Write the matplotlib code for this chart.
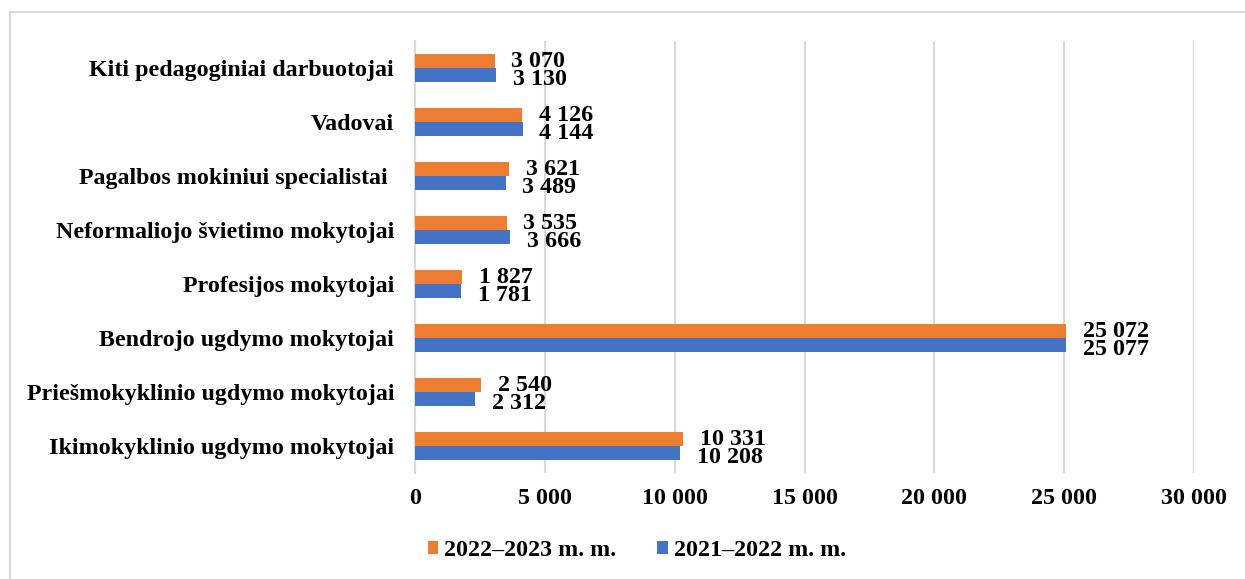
import matplotlib.pyplot as plt
import matplotlib.patches as mpatches
import numpy as np

plt.rcParams['font.family'] = ['Liberation Serif', 'DejaVu Serif']
plt.rcParams['font.weight'] = 'bold'

categories = [
    "Ikimokyklinio ugdymo mokytojai",
    "Priešmokyklinio ugdymo mokytojai",
    "Bendrojo ugdymo mokytojai",
    "Profesijos mokytojai",
    "Neformaliojo švietimo mokytojai",
    "Pagalbos mokiniui specialistai ",
    "Vadovai",
    "Kiti pedagoginiai darbuotojai",
]
vals_2022_2023 = [10331, 2540, 25072, 1827, 3535, 3621, 4126, 3070]
vals_2021_2022 = [10208, 2312, 25077, 1781, 3666, 3489, 4144, 3130]
series_names = ["2022–2023 m. m.", "2021–2022 m. m."]
colors = ["#ED7D31", "#4472C4"]
xticks = [0, 5000, 10000, 15000, 20000, 25000, 30000]

FS = 17.3


def fmt(v):
    return f"{v:,}".replace(",", " ")


W, H = 1245, 579
fig = plt.figure(figsize=(W / 100, H / 100), dpi=100)
ax = fig.add_axes([415 / W, 1 - 473 / H, (1194 - 415) / W, (473 - 41) / H])

y = np.arange(len(categories))
h = 0.26
bars_o = ax.barh(y + h / 2, vals_2022_2023, height=h, color=colors[0], label=series_names[0], zorder=3)
bars_b = ax.barh(y - h / 2, vals_2021_2022, height=h, color=colors[1], label=series_names[1], zorder=3)

# value labels: orange one sits just above the category centre, blue one just below
for yi, vo, vb in zip(y, vals_2022_2023, vals_2021_2022):
    ax.annotate(fmt(vo), (vo, yi), xytext=(12, 1), textcoords='offset points',
                ha='left', va='baseline', fontsize=FS, fontweight='bold')
    ax.annotate(fmt(vb), (vb, yi), xytext=(12, -12.5), textcoords='offset points',
                ha='left', va='baseline', fontsize=FS, fontweight='bold')

ax.set_xlim(0, 30000)
ax.set_ylim(-0.5, len(categories) - 0.5)
ax.set_xticks(xticks)
ax.set_xticklabels([fmt(t) for t in xticks], fontsize=FS, fontweight='bold')
ax.set_yticks(y)
ax.set_yticklabels(categories, fontsize=FS, fontweight='bold')
ax.tick_params(axis='x', length=0, pad=11)
ax.tick_params(axis='y', length=0, pad=15)

ax.grid(axis='x', color='#d9d9d9', lw=1.5, zorder=0)
for s in ('top', 'right', 'bottom'):
    ax.spines[s].set_visible(False)
ax.spines['left'].set_color('#d9d9d9')
ax.spines['left'].set_linewidth(1.5)

fig.legend(loc='center', bbox_to_anchor=(637 / W, 1 - 551 / H), ncol=2, frameon=False,
           prop={'size': FS, 'weight': 'bold'}, handlelength=0.45, handleheight=0.45,
           handletextpad=0.25, columnspacing=1.7)

# light outer frame of the chart area
fig.patches.append(mpatches.Rectangle((9.5 / W, -0.1), 1.2, 1.1 - 12.5 / H,
                                      transform=fig.transFigure, fill=False,
                                      ec='#d9d9d9', lw=1.5))

fig.savefig("out.png", dpi=100)
